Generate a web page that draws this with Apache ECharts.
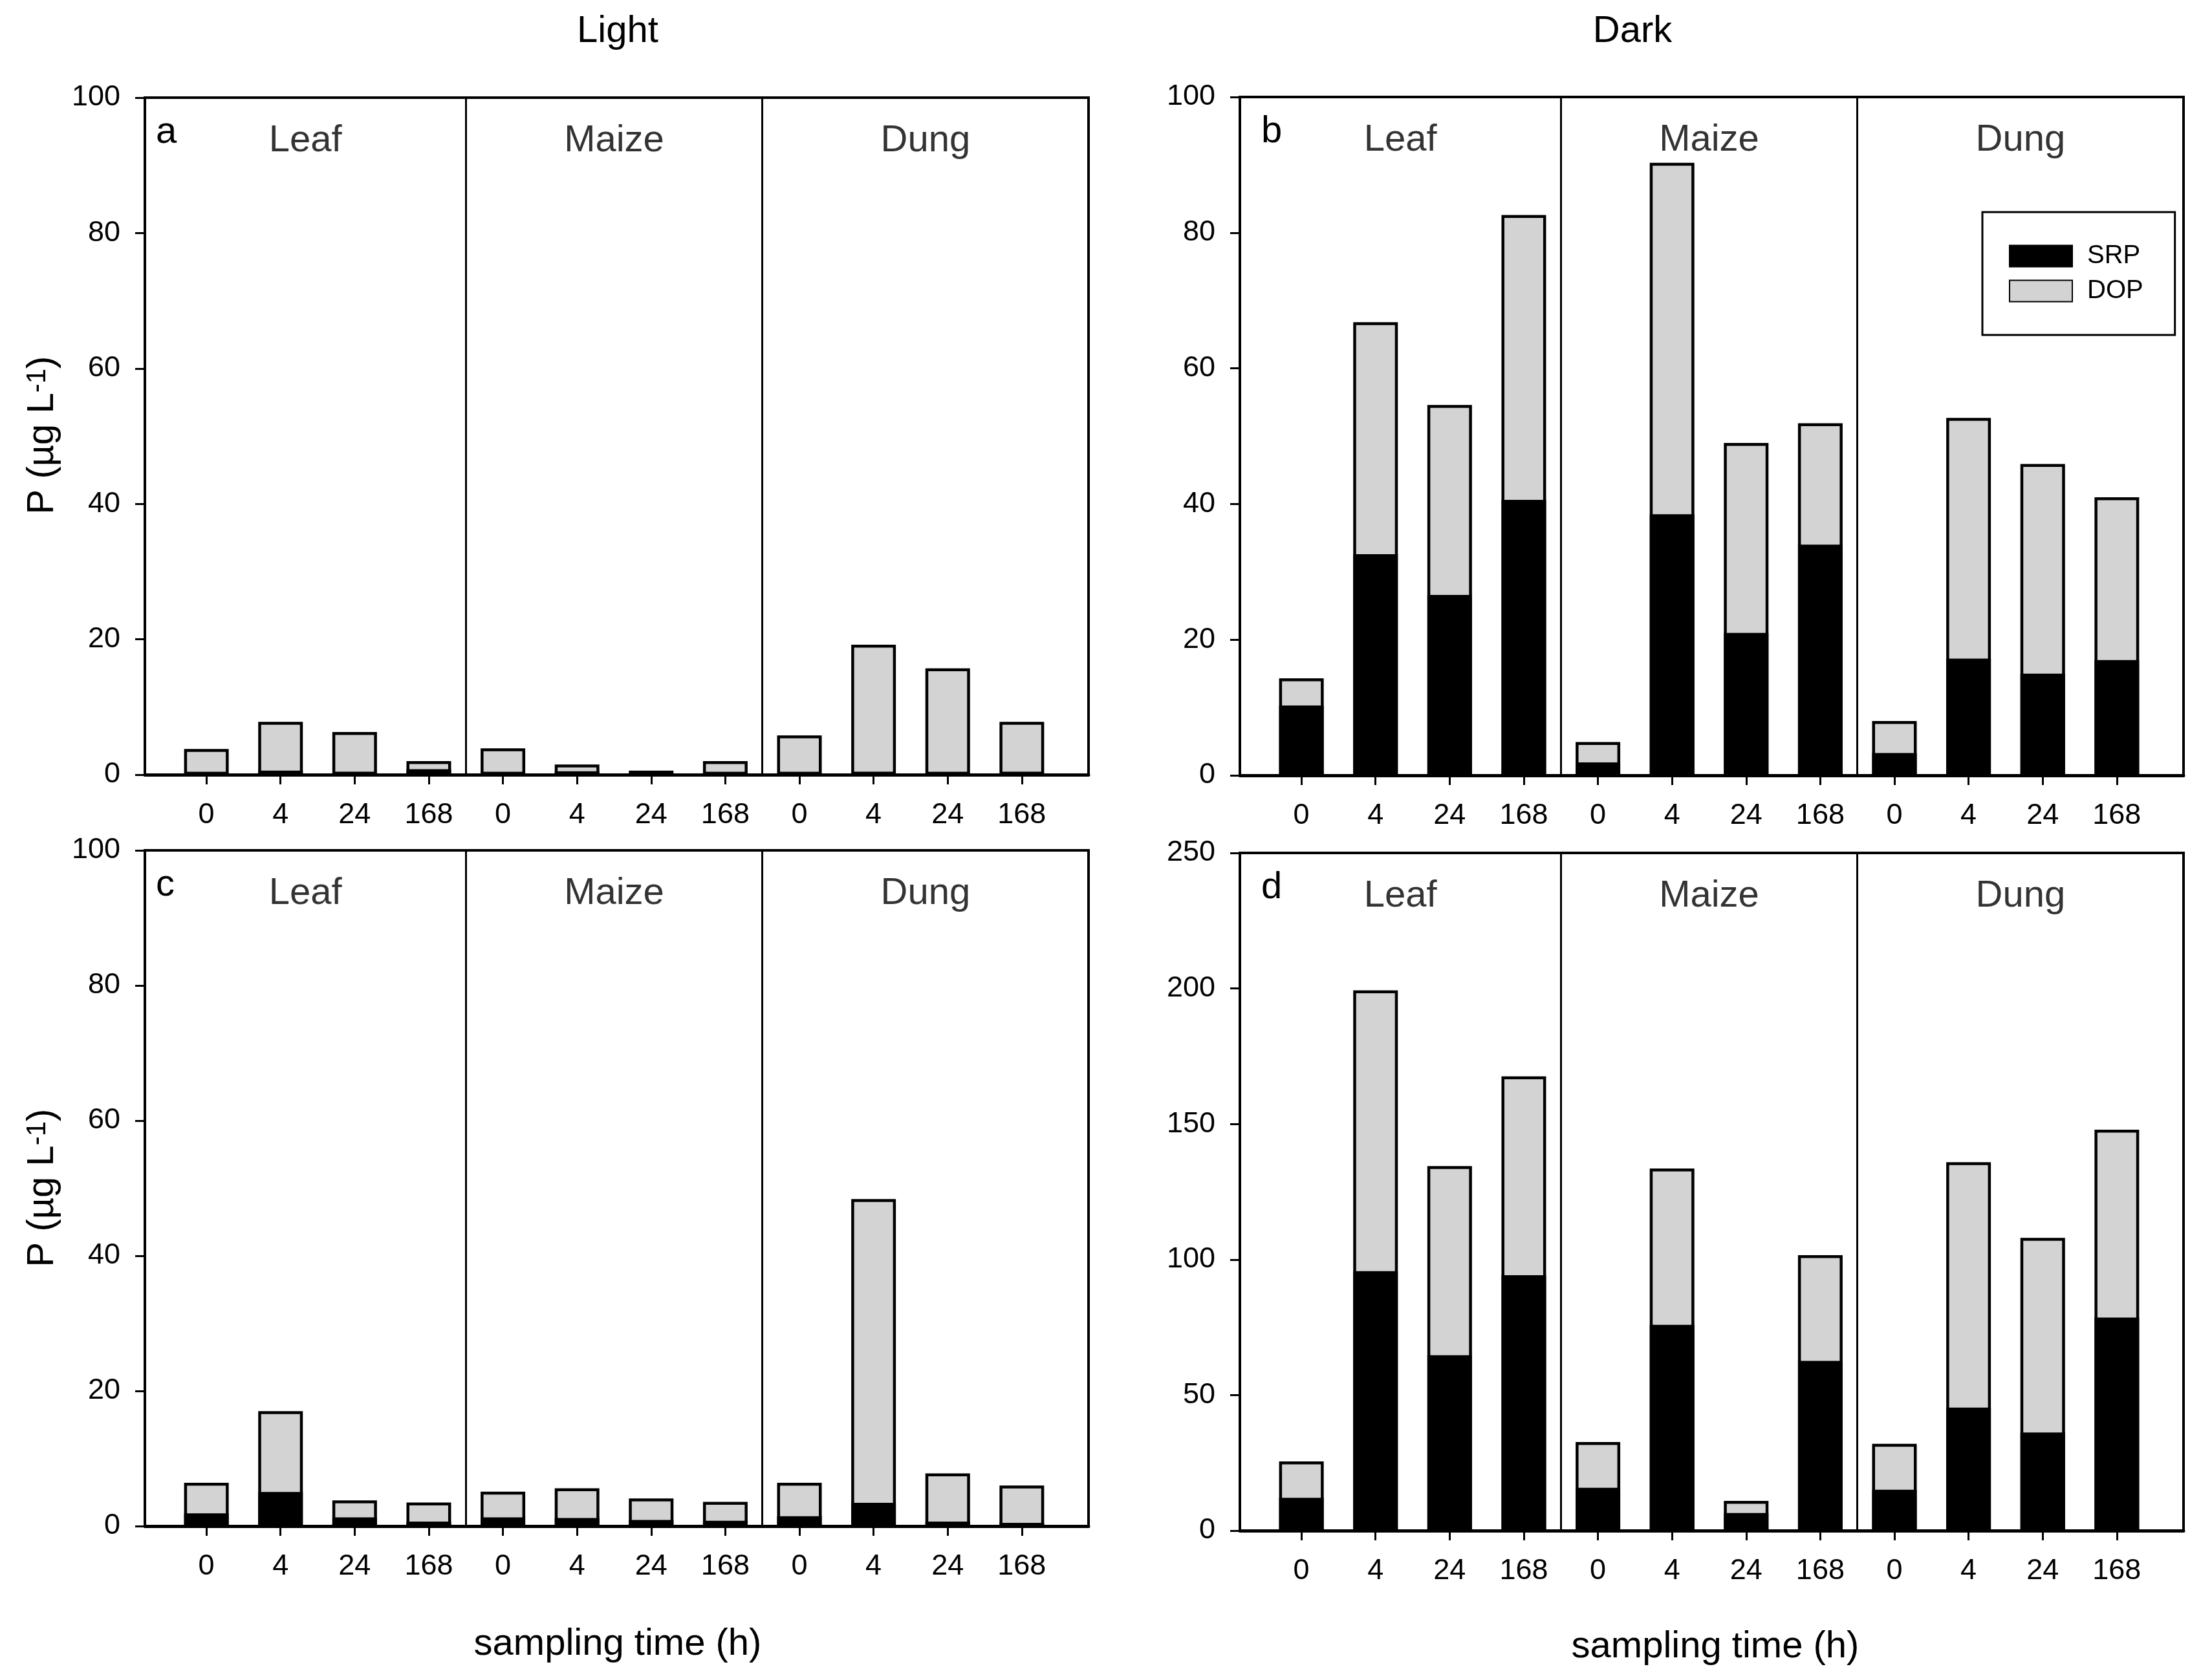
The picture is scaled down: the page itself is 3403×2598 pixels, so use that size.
<!DOCTYPE html>
<html><head><meta charset="utf-8">
<script src="https://cdn.jsdelivr.net/npm/echarts@6/dist/echarts.min.js"></script>
<style>html,body{margin:0;padding:0;background:#fff}#c{width:3403px;height:2598px}</style>
</head><body><div id="c"></div>
<script>
// ---- data ----
const groups = ['Leaf', 'Maize', 'Dung'];
const timeLabels = ['0', '4', '24', '168'];
const panelLetters = ['a', 'b', 'c', 'd'];
const seriesNames = ['SRP', 'DOP'];
// Light, first row (a)
const srpA = [0.2, 0.6, 0.4, 0.8, 0.2, 0.5, 0.4, 0.3, 0.2, 0.4, 0.3, 0.4];
const dopA = [3.6, 7.2, 5.9, 1.2, 3.7, 1.0, 0.2, 1.7, 5.6, 18.8, 15.4, 7.4];
// Dark, first row (b)
const srpB = [10.3, 32.6, 26.6, 40.6, 1.9, 38.5, 21.0, 34.0, 3.3, 17.2, 15.0, 17.0];
const dopB = [4.0, 34.2, 28.0, 42.0, 3.0, 51.8, 28.0, 17.9, 4.7, 35.5, 30.9, 24.0];
// Light, second row (c)
const srpC = [1.9, 5.05, 1.3, 0.67, 1.3, 1.2, 0.9, 0.8, 1.45, 3.45, 0.67, 0.48];
const dopC = [4.5, 11.95, 2.5, 2.83, 3.8, 4.4, 3.2, 2.8, 4.95, 44.95, 7.13, 5.52];
// Dark, second row (d)
const srpD = [12.1, 95.7, 64.7, 94.2, 15.8, 75.9, 6.5, 62.6, 15.1, 45.4, 36.2, 78.6];
const dopD = [13.4, 103.6, 69.8, 73.4, 16.9, 57.7, 4.5, 39.0, 16.9, 90.5, 71.8, 69.3];
const yMax = [100, 100, 100, 250];
const yStep = [20, 20, 20, 50];

// ---- layout / style ----
const FONT = '"Liberation Sans", Arial, sans-serif';
const srp = [srpA, srpB, srpC, srpD];
const dop = [dopA, dopB, dopC, dopD];
const grids = [
  {left: 224, top: 151, width: 1459, height: 1047},
  {left: 1917, top: 150, width: 1459, height: 1049},
  {left: 224, top: 1315, width: 1459, height: 1045},
  {left: 1917, top: 1319, width: 1459, height: 1048}
];
const X_MIN = -0.83, X_MAX = 11.9;
const bounds = [3.5, 7.5];
const positions = srpA.map((_, i) => i);
const edges = [X_MIN, bounds[0], bounds[1], X_MAX];
const centers = groups.map((_, j) => (edges[j] + edges[j + 1]) / 2);

const chart = echarts.init(document.getElementById('c'), null, {renderer: 'canvas'});

const xAxis = grids.map((g, k) => ({
  gridIndex: k, type: 'value', min: X_MIN, max: X_MAX,
  splitLine: {show: false},
  axisLine: {show: true, onZero: false, lineStyle: {color: '#000', width: 5}},
  axisTick: {show: true, customValues: positions, length: 15, lineStyle: {color: '#000', width: 3}},
  axisLabel: {show: true, customValues: positions, formatter: v => timeLabels[Math.round(v) % 4],
    fontSize: 45, color: '#000', margin: 40, fontFamily: FONT}
}));
const yAxis = grids.map((g, k) => ({
  gridIndex: k, type: 'value', min: 0, max: yMax[k], interval: yStep[k],
  splitLine: {show: false},
  axisLine: {show: true, onZero: false, lineStyle: {color: '#000', width: 4}},
  axisTick: {show: true, length: 15, lineStyle: {color: '#000', width: 3}},
  axisLabel: {fontSize: 45, color: '#000', margin: 38, fontFamily: FONT}
}));

const series = [];
grids.forEach((g, k) => {
  // DOP sits on top of SRP: the grey bar spans 0 .. SRP+DOP, the black SRP bar is drawn over its lower part
  series.push({
    name: seriesNames[1], type: 'bar', xAxisIndex: k, yAxisIndex: k,
    barWidth: 69, barGap: '-100%', z: 2,
    data: positions.map(i => [i, srp[k][i] + dop[k][i]]),
    itemStyle: {color: '#d3d3d3', borderColor: '#000', borderWidth: 4.5},
    markLine: {
      silent: true, symbol: 'none', label: {show: false},
      lineStyle: {color: '#000', width: 3, type: 'solid'},
      data: bounds.map(b => ({xAxis: b}))
    }
  });
  series.push({
    name: seriesNames[0], type: 'bar', xAxisIndex: k, yAxisIndex: k,
    barWidth: 69, barGap: '-100%', z: 3,
    data: positions.map(i => [i, srp[k][i]]),
    itemStyle: {color: '#000', borderColor: '#000', borderWidth: 4.5}
  });
  series.push({
    name: 'groupLabels' + k, type: 'scatter', xAxisIndex: k, yAxisIndex: k,
    symbolSize: 0, silent: true,
    data: groups.map((gname, j) => ({name: gname, value: [centers[j], yMax[k] * 0.936]})),
    label: {show: true, position: 'inside', formatter: '{b}', fontSize: 58, color: '#000', fontFamily: FONT}
  });
});

const txt = (x, y, text, extra) => ({
  type: 'text', x: x, y: y, silent: true,
  style: Object.assign({text: text, fontSize: 58, fontFamily: FONT, fill: '#000', align: 'center', verticalAlign: 'middle'}, extra || {})
});
const ytitle = (x, y) => ({
  type: 'text', x: x, y: y, rotation: Math.PI / 2, silent: true,
  style: {text: 'P (µg L{sup|-1})', fontSize: 58, fontFamily: FONT, fill: '#000', align: 'center', verticalAlign: 'middle',
    rich: {sup: {fontSize: 42, fontFamily: FONT, fill: '#000', verticalAlign: 'top'}}}
});
const letterPos = [[241, 205], [1950, 204], [241, 1369], [1950, 1373]];

const graphic = [
  txt(955, 49, 'Light'),
  txt(2524, 49, 'Dark'),
  txt(955, 2543, 'sampling time (h)'),
  txt(2652, 2547, 'sampling time (h)'),
  ytitle(66, 673),
  ytitle(66, 1837)
].concat(panelLetters.map((l, k) => txt(letterPos[k][0], letterPos[k][1], l, {align: 'left'})));

chart.setOption({
  animation: false,
  backgroundColor: '#fff',
  grid: grids.map(g => Object.assign({show: true, borderColor: '#000', borderWidth: 4, backgroundColor: 'transparent'}, g)),
  xAxis: xAxis,
  yAxis: yAxis,
  legend: {
    data: seriesNames, orient: 'vertical', left: 3065, top: 328,
    padding: [48, 49, 48, 41], itemWidth: 97, itemHeight: 33, itemGap: 14,
    borderColor: '#000', borderWidth: 3, icon: 'rect',
    textStyle: {fontSize: 40, color: '#000', fontFamily: FONT, padding: [0, 0, 0, 18]}
  },
  graphic: graphic,
  series: series
});
</script></body></html>
